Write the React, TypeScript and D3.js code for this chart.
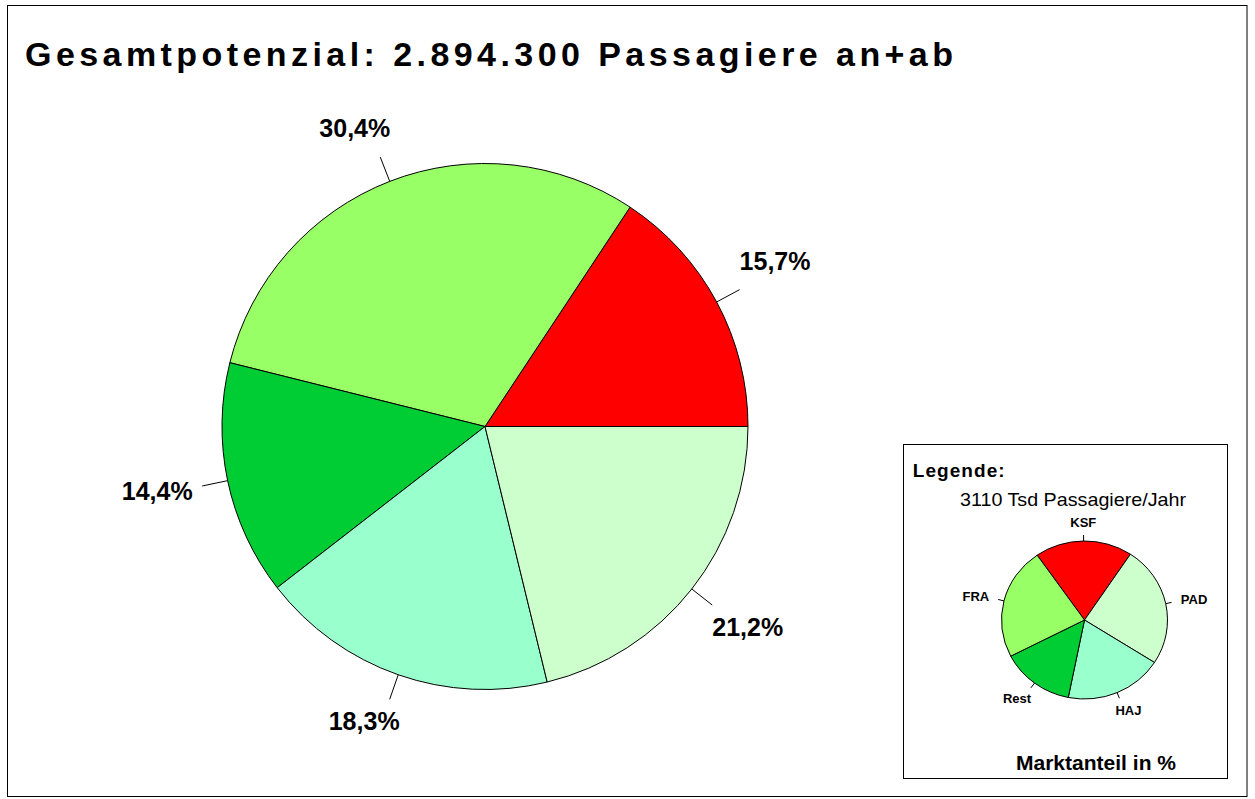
import React from "react";
import * as d3 from "d3";

const title = "Gesamtpotenzial: 2.894.300 Passagiere an+ab";
const mainCategories = ["KSF", "FRA", "Rest", "HAJ", "PAD"];
const mainValues = [15.7, 30.4, 14.4, 18.3, 21.2];
const mainLabels = ["15,7%", "30,4%", "14,4%", "18,3%", "21,2%"];

const legendCategories = ["KSF", "PAD", "HAJ", "Rest", "FRA"];
const legendValues = [19.0, 24.7, 19.1, 14.3, 22.9];
const legendTitle = "Legende:";
const legendSubtitle = "3110 Tsd Passagiere/Jahr";
const legendFooter = "Marktanteil in %";

const colors: Record<string, string> = {
  KSF: "#FF0000",
  FRA: "#99FF66",
  Rest: "#00CC33",
  HAJ: "#99FFCC",
  PAD: "#CCFFCC",
};

const FONT = "'Liberation Sans', Arial, Helvetica, sans-serif";

export default function App() {
  const W = 1255;
  const H = 799;

  // main pie
  const cx = 485;
  const cy = 426.5;
  const r = 263;
  const mainPie = d3
    .pie<number>()
    .sort(null)
    .startAngle(Math.PI / 2)
    .endAngle(Math.PI / 2 - 2 * Math.PI)(mainValues);
  const arcGen = d3.arc<d3.PieArcDatum<number>>().innerRadius(0).outerRadius(r);

  // legend pie
  const lcx = 1084.5;
  const lcy = 620;
  const lrx = 83;
  const lry = 79;
  const legStart = (-34.8 * Math.PI) / 180;
  const legPie = d3
    .pie<number>()
    .sort(null)
    .startAngle(legStart)
    .endAngle(legStart + 2 * Math.PI)(legendValues);
  const legArc = d3.arc<d3.PieArcDatum<number>>().innerRadius(0).outerRadius(lrx);

  return (
    <div style={{ position: "absolute", left: 0, top: 0 }}>
      <svg width={W} height={H} style={{ display: "block", background: "#fff" }}>
        <rect x={7.5} y={5.5} width={1239.5} height={791} fill="#fff" stroke="#000" strokeWidth={1} />
        <text
          x={25}
          y={65.5}
          fontFamily={FONT}
          fontWeight="bold"
          fontSize={34}
          textLength={928}
          lengthAdjust="spacing"
          fill="#000"
        >
          {title}
        </text>

        <g transform={`translate(${cx},${cy})`}>
          {mainPie.map((d, i) => (
            <path
              key={mainCategories[i]}
              d={arcGen(d) || ""}
              fill={colors[mainCategories[i]]}
              stroke="#000"
              strokeWidth={1}
              strokeLinejoin="round"
            />
          ))}
        </g>
        {mainPie.map((d, i) => {
          const mid = (d.startAngle + d.endAngle) / 2;
          const dx = Math.sin(mid);
          const dy = -Math.cos(mid);
          const x1 = cx + r * dx;
          const y1 = cy + r * dy;
          const x2 = cx + (r + 26) * dx;
          const y2 = cy + (r + 26) * dy;
          let ox: number;
          let oy: number;
          if (Math.abs(dy) > 0.4) {
            ox = dx > 0 ? 35.5 : -25.5;
            oy = dy < 0 ? -29 : 22;
          } else {
            ox = dx > 0 ? 45 : -45;
            oy = 5;
          }
          return (
            <g key={"lab" + i}>
              <line x1={x1} y1={y1} x2={x2} y2={y2} stroke="#000" strokeWidth={1} />
              <text
                x={x2 + ox}
                y={y2 + oy + 9}
                textAnchor="middle"
                fontFamily={FONT}
                fontWeight="bold"
                fontSize={25}
                fill="#000"
              >
                {mainLabels[i]}
              </text>
            </g>
          );
        })}

        {/* legend box */}
        <rect x={903.5} y={444.5} width={324} height={334} fill="#fff" stroke="#000" strokeWidth={1} />
        <text
          x={912.7}
          y={476.5}
          fontFamily={FONT}
          fontWeight="bold"
          fontSize={19}
          textLength={92}
          lengthAdjust="spacing"
          fill="#000"
        >
          {legendTitle}
        </text>
        <text
          x={960}
          y={506}
          fontFamily={FONT}
          fontSize={19}
          textLength={226}
          lengthAdjust="spacingAndGlyphs"
          fill="#000"
        >
          {legendSubtitle}
        </text>
        <g transform={`translate(${lcx},${lcy}) scale(1,${lry / lrx})`}>
          {legPie.map((d, i) => (
            <path
              key={legendCategories[i]}
              d={legArc(d) || ""}
              fill={colors[legendCategories[i]]}
              stroke="#000"
              strokeWidth={1}
              vectorEffect="non-scaling-stroke"
              strokeLinejoin="round"
            />
          ))}
        </g>
        {legPie.map((d, i) => {
          const mid = (d.startAngle + d.endAngle) / 2;
          const dx = Math.sin(mid);
          const dy = -Math.cos(mid);
          const x1 = lcx + lrx * dx;
          const y1 = lcy + lry * dy;
          const x2 = lcx + (lrx + 6) * dx;
          const y2 = lcy + (lry + 6) * dy;
          return (
            <g key={"llab" + i}>
              <line x1={x1} y1={y1} x2={x2} y2={y2} stroke="#000" strokeWidth={1} />
              <text
                x={x2 + dx * 23}
                y={y2 + dy * 13 + 4.7}
                textAnchor="middle"
                fontFamily={FONT}
                fontWeight="bold"
                fontSize={13}
                fill="#000"
              >
                {legendCategories[i]}
              </text>
            </g>
          );
        })}
        <text
          x={1016}
          y={769.5}
          fontFamily={FONT}
          fontWeight="bold"
          fontSize={19.5}
          textLength={160}
          lengthAdjust="spacingAndGlyphs"
          fill="#000"
        >
          {legendFooter}
        </text>
      </svg>
    </div>
  );
}
